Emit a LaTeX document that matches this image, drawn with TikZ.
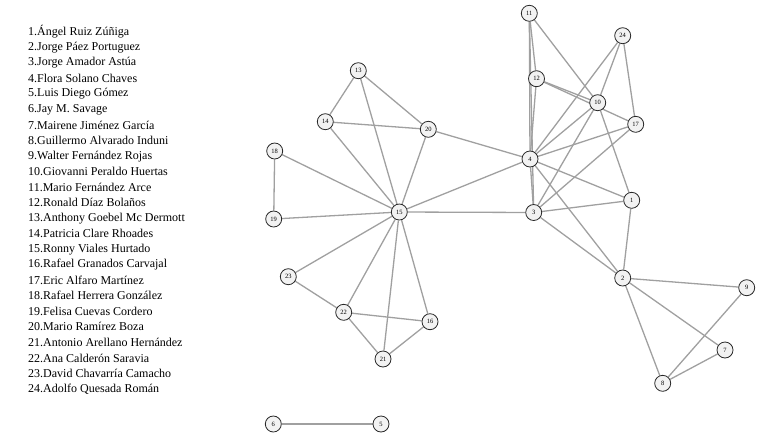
\documentclass[tikz,border=0pt]{standalone}
\usepackage{fontspec}
\setmainfont{Liberation Serif}
\usetikzlibrary{backgrounds}
\definecolor{edgegray}{RGB}{160,160,160}
\definecolor{nodefill}{RGB}{242,242,242}
\definecolor{nodeline}{RGB}{40,40,40}
\tikzset{
  vert/.style={circle,draw=nodeline,fill=nodefill,line width=0.8pt,minimum size=16pt,inner sep=0pt,font=\fontsize{6.5}{7}\selectfont},
  link/.style={draw=edgegray,line width=1.3pt},
  namelist/.style={anchor=west,inner sep=0pt,font=\fontsize{12}{14}\selectfont}
}
\begin{document}
\begin{tikzpicture}[x=1pt,y=-1pt]
\useasboundingbox (0,0) rectangle (762,447);
% names list
\foreach \t [count=\i] in {1.Ángel Ruiz Zúñiga,2.Jorge Páez Portuguez,3.Jorge Amador Astúa,4.Flora Solano Chaves,5.Luis Diego Gómez,6.Jay M. Savage,7.Mairene Jiménez García,8.Guillermo Alvarado Induni,9.Walter Fernández Rojas,10.Giovanni Peraldo Huertas,11.Mario Fernández Arce,12.Ronald Díaz Bolaños,13.Anthony Goebel Mc Dermott,14.Patricia Clare Rhoades,15.Ronny Viales Hurtado,16.Rafael Granados Carvajal,17.Eric Alfaro Martínez,18.Rafael Herrera González,19.Felisa Cuevas Cordero,20.Mario Ramírez Boza,21.Antonio Arellano Hernández,22.Ana Calderón Saravia,23.David Chavarría Camacho,24.Adolfo Quesada Román}
  \node[namelist] (name\i) at (28,{32+15.52*(\i-1)}) {\t};
% vertices
\node[vert] (n11) at (529.3,13.3) {11};
\node[vert] (n24) at (622.7,35.7) {24};
\node[vert] (n12) at (536.5,78.7) {12};
\node[vert] (n10) at (597.7,102.7) {10};
\node[vert] (n17) at (635.7,124.3) {17};
\node[vert] (n4) at (530,159) {4};
\node[vert] (n1) at (631.7,200.3) {1};
\node[vert] (n3) at (533.7,212.5) {3};
\node[vert] (n2) at (622.7,278) {2};
\node[vert] (n9) at (746.7,287.7) {9};
\node[vert] (n7) at (725,350) {7};
\node[vert] (n8) at (662.7,383.3) {8};
\node[vert] (n13) at (358.3,70.7) {13};
\node[vert] (n14) at (325.3,121.7) {14};
\node[vert] (n20) at (428.3,129.3) {20};
\node[vert] (n18) at (274.7,151) {18};
\node[vert] (n19) at (273.7,219) {19};
\node[vert] (n15) at (399.3,212) {15};
\node[vert] (n23) at (288.3,276.7) {23};
\node[vert] (n22) at (343.7,312.3) {22};
\node[vert] (n16) at (430,321.7) {16};
\node[vert] (n21) at (383,359) {21};
\node[vert] (n6) at (273.3,424) {6};
\node[vert] (n5) at (381,424) {5};
% edges
\begin{pgfonlayer}{background}
\foreach \a/\b in {11/12,11/4,11/3,11/10,12/4,12/10,12/17,24/4,24/10,24/17,10/4,10/3,10/1,17/4,17/3,4/1,4/3,4/2,4/15,4/20,3/1,3/15,3/2,1/2,2/9,2/7,2/8,9/8,7/8,13/14,13/15,13/20,14/20,14/15,20/15,18/19,18/15,19/15,15/23,15/22,15/21,15/16,23/22,22/16,22/21,16/21,6/5}
  \draw[link] (n\a) -- (n\b);
\end{pgfonlayer}
\end{tikzpicture}
\end{document}
